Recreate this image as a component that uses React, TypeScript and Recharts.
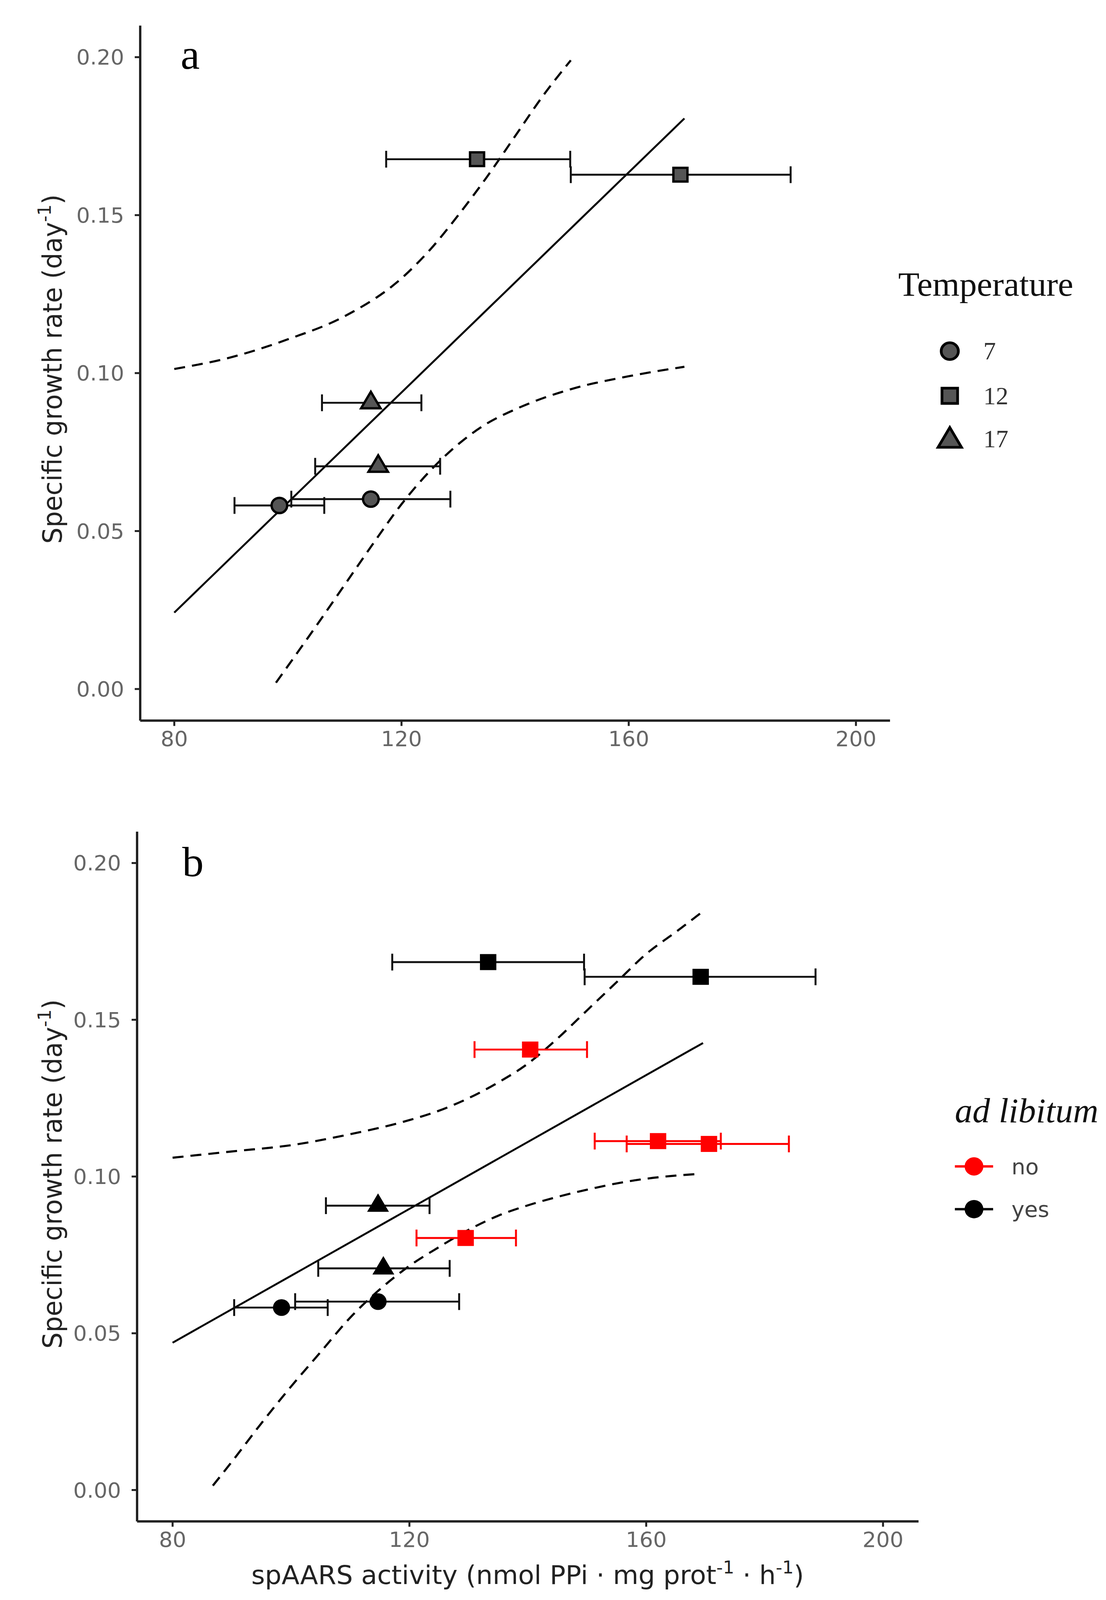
import React from 'react';
import { ComposedChart, Scatter, Line, XAxis, YAxis, ErrorBar } from 'recharts';

const SANS = '"DejaVu Sans", Verdana, sans-serif';
const SERIF = '"Liberation Serif", "Times New Roman", serif';

// ---------- shared axis ticks ----------
const X_TICKS = [80, 120, 160, 200];
const Y_TICKS = [0, 0.05, 0.1, 0.15, 0.2];

// ---------- panel a : Temperature groups (x, y, xlow, xhigh) ----------
const A_T7 = [
  { x: 98.5, y: 0.0581, lo: 90.6, hi: 106.4 },
  { x: 114.6, y: 0.0601, lo: 100.6, hi: 128.6 },
];
const A_T12 = [
  { x: 133.3, y: 0.1677, lo: 117.3, hi: 149.7 },
  { x: 169.1, y: 0.1628, lo: 149.8, hi: 188.5 },
];
const A_T17 = [
  { x: 114.6, y: 0.0906, lo: 106.0, hi: 123.5 },
  { x: 115.9, y: 0.0705, lo: 104.8, hi: 126.8 },
];
const A_FIT = [
  { x: 80, y: 0.0242 },
  { x: 169.8, y: 0.1806 },
];
const A_UPPER = [
  { x: 80, y: 0.1013 },
  { x: 90, y: 0.105 },
  { x: 100, y: 0.1107 },
  { x: 110, y: 0.118 },
  { x: 120, y: 0.13 },
  { x: 125, y: 0.139 },
  { x: 130, y: 0.15 },
  { x: 135, y: 0.162 },
  { x: 140, y: 0.175 },
  { x: 145, y: 0.188 },
  { x: 149.8, y: 0.199 },
];
const A_LOWER = [
  { x: 97.9, y: 0.002 },
  { x: 105, y: 0.02 },
  { x: 110, y: 0.033 },
  { x: 115, y: 0.046 },
  { x: 120, y: 0.0585 },
  { x: 125, y: 0.069 },
  { x: 130, y: 0.0775 },
  { x: 135, y: 0.084 },
  { x: 140, y: 0.0885 },
  { x: 150, y: 0.095 },
  { x: 160, y: 0.099 },
  { x: 169.8, y: 0.102 },
];

// ---------- panel b : ad libitum groups ----------
const B_YES_CIRCLE = [
  { x: 98.4, y: 0.0582, lo: 90.4, hi: 106.2 },
  { x: 114.7, y: 0.0601, lo: 100.7, hi: 128.4 },
];
const B_YES_TRIANGLE = [
  { x: 114.7, y: 0.0907, lo: 105.9, hi: 123.4 },
  { x: 115.6, y: 0.0707, lo: 104.6, hi: 126.8 },
];
const B_YES_SQUARE = [
  { x: 133.3, y: 0.1684, lo: 117.1, hi: 149.5 },
  { x: 169.2, y: 0.1637, lo: 149.6, hi: 188.6 },
];
const B_NO_SQUARE = [
  { x: 140.4, y: 0.1405, lo: 131.0, hi: 150.0 },
  { x: 129.5, y: 0.0804, lo: 121.2, hi: 138.0 },
  { x: 162.0, y: 0.1113, lo: 151.3, hi: 172.6 },
  { x: 170.6, y: 0.1104, lo: 156.7, hi: 184.1 },
];
const B_FIT = [
  { x: 80, y: 0.047 },
  { x: 169.6, y: 0.1426 },
];
const B_UPPER = [
  { x: 80, y: 0.106 },
  { x: 90, y: 0.108 },
  { x: 100, y: 0.11 },
  { x: 110, y: 0.1135 },
  { x: 120, y: 0.118 },
  { x: 125, y: 0.121 },
  { x: 130, y: 0.125 },
  { x: 135, y: 0.13 },
  { x: 140, y: 0.136 },
  { x: 145, y: 0.144 },
  { x: 150, y: 0.153 },
  { x: 155, y: 0.162 },
  { x: 160, y: 0.171 },
  { x: 165, y: 0.178 },
  { x: 169.6, y: 0.1846 },
];
const B_LOWER = [
  { x: 86.8, y: 0.0014 },
  { x: 90, y: 0.009 },
  { x: 95, y: 0.0213 },
  { x: 100, y: 0.033 },
  { x: 105, y: 0.044 },
  { x: 110, y: 0.055 },
  { x: 115, y: 0.064 },
  { x: 120, y: 0.0715 },
  { x: 125, y: 0.0775 },
  { x: 130, y: 0.083 },
  { x: 135, y: 0.0875 },
  { x: 140, y: 0.0908 },
  { x: 145, y: 0.0935 },
  { x: 150, y: 0.0958 },
  { x: 155, y: 0.0978 },
  { x: 160, y: 0.0993 },
  { x: 165, y: 0.1003 },
  { x: 168.7, y: 0.1008 },
];

// legend labels
const TEMP_LABELS = ['7', '12', '17'];
const ADLIB_LABELS = ['no', 'yes'];

// ---------- helpers ----------
const withErr = (pts: { x: number; y: number; lo: number; hi: number }[]) =>
  pts.map((p) => ({ x: p.x, y: p.y, xerr: [p.x - p.lo, p.hi - p.x] }));

const circleShape = (r: number, fill: string, stroke: string, sw: number) => (props: any) =>
  props.cx == null ? null : (
    <circle cx={props.cx} cy={props.cy} r={r} fill={fill} stroke={stroke} strokeWidth={sw} />
  );
const squareShape = (s: number, fill: string, stroke: string, sw: number) => (props: any) =>
  props.cx == null ? null : (
    <rect x={props.cx - s / 2} y={props.cy - s / 2} width={s} height={s} fill={fill} stroke={stroke} strokeWidth={sw} />
  );
const triangleShape = (s: number, fill: string, stroke: string, sw: number) => (props: any) => {
  if (props.cx == null) return null;
  const h = s * 0.866;
  const cx = props.cx;
  const cy = props.cy;
  const pts = `${cx},${cy - (2 * h) / 3} ${cx - s / 2},${cy + h / 3} ${cx + s / 2},${cy + h / 3}`;
  return <polygon points={pts} fill={fill} stroke={stroke} strokeWidth={sw} strokeLinejoin="miter" />;
};

const GRAY = '#555555';
const RED = '#ff0000';
const AXIS = '#222222';
const TICK_TXT = '#666666';

const axisCommon = {
  tickLine: { stroke: AXIS, strokeWidth: 5 },
  axisLine: { stroke: AXIS, strokeWidth: 6 },
  tickSize: 14,
};

const xAxisEl = (
  <XAxis
    type="number"
    dataKey="x"
    domain={[74, 206]}
    allowDataOverflow
    ticks={X_TICKS}
    interval={0}
    tick={{ fill: TICK_TXT, fontSize: 55, fontFamily: SANS }}
    tickMargin={14}
    height={100}
    {...axisCommon}
  />
);

const yAxisEl = (
  <YAxis
    type="number"
    dataKey="y"
    domain={[-0.01, 0.21]}
    allowDataOverflow
    ticks={Y_TICKS}
    interval={0}
    tickFormatter={(v: number) => v.toFixed(2)}
    tick={{ fill: TICK_TXT, fontSize: 55, fontFamily: SANS }}
    tickMargin={27}
    width={200}
    {...axisCommon}
  />
);

const lineProps = {
  dataKey: 'y',
  stroke: '#000',
  strokeWidth: 5.5,
  dot: false,
  activeDot: false,
  isAnimationActive: false,
  legendType: 'none' as const,
};

const DASH = '28 18';

function PanelA() {
  return (
    <ComposedChart width={2832} height={2100} margin={{ top: 67, right: 553, bottom: 112, left: 159 }}>
      {xAxisEl}
      {yAxisEl}
      <Line {...lineProps} data={A_UPPER} type="monotone" strokeDasharray={DASH} />
      <Line {...lineProps} data={A_LOWER} type="monotone" strokeDasharray={DASH} />
      <Line {...lineProps} data={A_FIT} type="linear" strokeWidth={5} />
      <Scatter data={withErr(A_T7)} dataKey="y" shape={circleShape(20, GRAY, '#000', 6)} isAnimationActive={false}>
        <ErrorBar dataKey="xerr" direction="x" width={22} stroke="#111" strokeWidth={5} isAnimationActive={false} />
      </Scatter>
      <Scatter data={withErr(A_T12)} dataKey="y" shape={squareShape(36, GRAY, '#000', 6)} isAnimationActive={false}>
        <ErrorBar dataKey="xerr" direction="x" width={22} stroke="#111" strokeWidth={5} isAnimationActive={false} />
      </Scatter>
      <Scatter data={withErr(A_T17)} dataKey="y" shape={triangleShape(50, GRAY, '#000', 6)} isAnimationActive={false}>
        <ErrorBar dataKey="xerr" direction="x" width={22} stroke="#111" strokeWidth={5} isAnimationActive={false} />
      </Scatter>
    </ComposedChart>
  );
}

function PanelB() {
  return (
    <ComposedChart width={2832} height={2092} margin={{ top: 79, right: 480, bottom: 106, left: 151 }}>
      {xAxisEl}
      {yAxisEl}
      <Line {...lineProps} data={B_UPPER} type="monotone" strokeDasharray={DASH} />
      <Line {...lineProps} data={B_LOWER} type="monotone" strokeDasharray={DASH} />
      <Line {...lineProps} data={B_FIT} type="linear" strokeWidth={5} />
      <Scatter data={withErr(B_YES_CIRCLE)} dataKey="y" shape={circleShape(22, '#000', '#000', 0)} isAnimationActive={false}>
        <ErrorBar dataKey="xerr" direction="x" width={22} stroke="#111" strokeWidth={5} isAnimationActive={false} />
      </Scatter>
      <Scatter data={withErr(B_YES_TRIANGLE)} dataKey="y" shape={triangleShape(56, '#000', '#000', 0)} isAnimationActive={false}>
        <ErrorBar dataKey="xerr" direction="x" width={22} stroke="#111" strokeWidth={5} isAnimationActive={false} />
      </Scatter>
      <Scatter data={withErr(B_YES_SQUARE)} dataKey="y" shape={squareShape(42, '#000', '#000', 0)} isAnimationActive={false}>
        <ErrorBar dataKey="xerr" direction="x" width={22} stroke="#111" strokeWidth={5} isAnimationActive={false} />
      </Scatter>
      <Scatter data={withErr(B_NO_SQUARE)} dataKey="y" shape={squareShape(42, RED, RED, 0)} isAnimationActive={false}>
        <ErrorBar dataKey="xerr" direction="x" width={22} stroke={RED} strokeWidth={5} isAnimationActive={false} />
      </Scatter>
    </ComposedChart>
  );
}

function YTitle({ cy }: { cy: number }) {
  const x = 158;
  return (
    <text
      x={x}
      y={cy}
      transform={`rotate(-90 ${x} ${cy})`}
      textAnchor="middle"
      fontFamily={SANS}
      fontSize={67}
      fill="#222"
    >
      Specific growth rate (day
      <tspan fontSize={46} dy={-28}>-1</tspan>
      <tspan dy={28}>)</tspan>
    </text>
  );
}

function Overlay() {
  const tempY = [920, 1037, 1150];
  const adY = [3056, 3168];
  const kx = 2432;
  return (
    <svg
      width={2832}
      height={4192}
      style={{ position: 'absolute', left: 0, top: 0, pointerEvents: 'none' }}
    >
      {/* panel letters */}
      <text x={487} y={180} textAnchor="middle" fontFamily={SERIF} fontSize={110} fill="#000">a</text>
      <text x={494} y={2296} textAnchor="middle" fontFamily={SERIF} fontSize={110} fill="#000">b</text>

      {/* axis titles */}
      <YTitle cy={967} />
      <YTitle cy={3076} />
      <text x={1351} y={4150} textAnchor="middle" fontFamily={SANS} fontSize={67} fill="#222">
        spAARS activity (nmol PPi · mg prot
        <tspan fontSize={46} dy={-28}>-1</tspan>
        <tspan dy={28}> · h</tspan>
        <tspan fontSize={46} dy={-28}>-1</tspan>
        <tspan dy={28}>)</tspan>
      </text>

      {/* legend a */}
      <text x={2300} y={775} fontFamily={SERIF} fontSize={89} fill="#111">Temperature</text>
      <circle cx={kx} cy={tempY[0]} r={22} fill={GRAY} stroke="#000" strokeWidth={7} />
      <rect x={kx - 20} y={tempY[1] - 20} width={40} height={40} fill={GRAY} stroke="#000" strokeWidth={7} />
      <polygon
        points={`${kx},${tempY[2] - 30} ${kx - 30},${tempY[2] + 22} ${kx + 30},${tempY[2] + 22}`}
        fill={GRAY}
        stroke="#000"
        strokeWidth={7}
      />
      {TEMP_LABELS.map((l, i) => (
        <text key={l} x={2518} y={tempY[i] + 22} fontFamily={SERIF} fontSize={64} fill="#333">{l}</text>
      ))}

      {/* legend b */}
      <text x={2445} y={2940} fontFamily={SERIF} fontStyle="italic" fontSize={90} fill="#111">ad libitum</text>
      {[RED, '#000'].map((c, i) => (
        <g key={c}>
          <line x1={2445} x2={2543} y1={adY[i]} y2={adY[i]} stroke={c} strokeWidth={6} />
          <circle cx={2494} cy={adY[i]} r={24} fill={c} />
        </g>
      ))}
      {ADLIB_LABELS.map((l, i) => (
        <text key={l} x={2590} y={adY[i] + 20} fontFamily={SANS} fontSize={56} fill="#444">{l}</text>
      ))}
    </svg>
  );
}

export default function App() {
  const vh = typeof window !== 'undefined' && window.innerHeight > 0 ? window.innerHeight : 4192;
  const H = Math.min(vh, 4192);
  const S = H / 4192;
  return (
    <div style={{ position: 'fixed', left: 0, top: 0, width: 2832, height: H, overflow: 'hidden', background: '#fff' }}>
      <div
        style={{
          position: 'absolute',
          left: 0,
          top: 0,
          width: 2832,
          height: 4192,
          transform: `scale(1, ${S})`,
          transformOrigin: '0 0',
        }}
      >
        <div style={{ position: 'absolute', left: 0, top: 0 }}>
          <PanelA />
        </div>
        <div style={{ position: 'absolute', left: 0, top: 2100 }}>
          <PanelB />
        </div>
        <Overlay />
      </div>
    </div>
  );
}
